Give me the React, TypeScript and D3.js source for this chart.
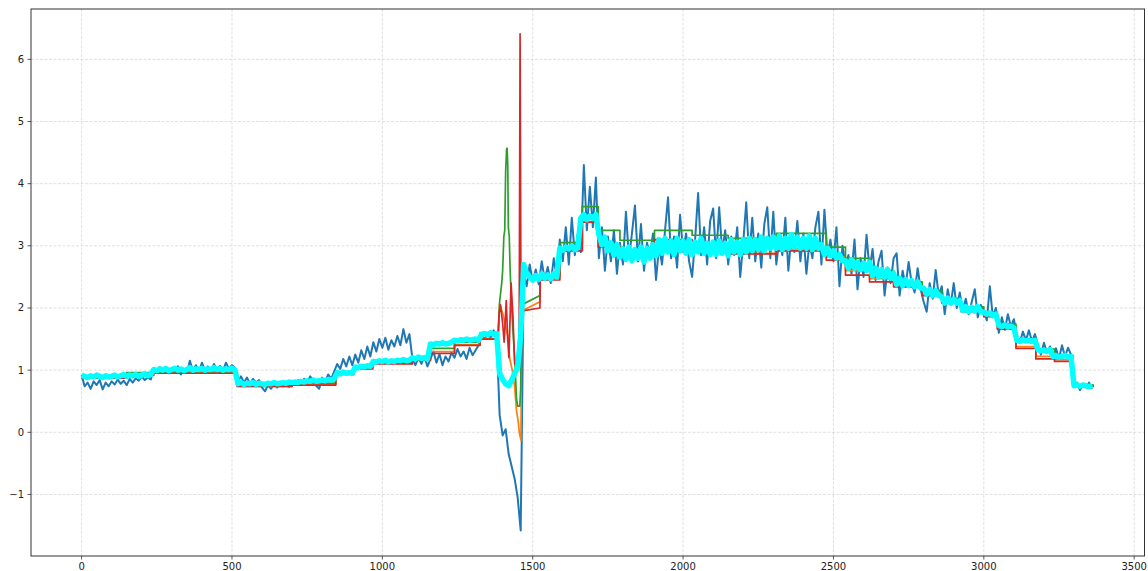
import React from 'react';
import * as d3 from 'd3';

// Sample spacing of the two dense series (raw signal and smoothed estimate)
const STEP = 10;

// Raw signal, one value every STEP samples from x = 0
const blueValues = [
  0.92, 0.74, 0.80, 0.70, 0.82, 0.76, 0.84, 0.69, 0.80, 0.74,
  0.82, 0.77, 0.85, 0.78, 0.83, 0.76, 0.86, 0.80, 0.87, 0.83,
  0.90, 0.84, 0.88, 0.85, 1.02, 0.96, 1.05, 0.98, 1.04, 0.95,
  1.03, 0.97, 1.06, 0.93, 1.02, 0.96, 1.15, 0.99, 1.08, 0.97,
  1.12, 1.00, 1.06, 0.98, 1.10, 1.01, 1.07, 0.99, 1.12, 1.02,
  1.08, 1.04, 0.82, 0.90, 0.80, 0.88, 0.78, 0.86, 0.80, 0.84,
  0.72, 0.66, 0.76, 0.70, 0.78, 0.72, 0.76, 0.74, 0.80, 0.73,
  0.79, 0.76, 0.84, 0.78, 0.86, 0.80, 0.90, 0.82, 0.75, 0.70,
  0.88, 0.82, 0.93, 0.86, 0.98, 1.10, 1.02, 1.18, 1.06, 1.22,
  1.08, 1.25, 1.12, 1.32, 1.18, 1.38, 1.22, 1.45, 1.30, 1.50,
  1.36, 1.52, 1.33, 1.48, 1.38, 1.55, 1.40, 1.66, 1.44, 1.58,
  1.18, 1.08, 1.20, 1.10, 1.22, 1.06, 1.18, 1.30, 1.12, 1.26,
  1.08, 1.22, 1.14, 1.28, 1.20, 1.34, 1.22, 1.30, 1.18, 1.36,
  1.24, 1.32, 1.40, 1.55, 1.50, 1.58, 1.52, 1.64, 1.55, 0.28,
  -0.05, 0.05, -0.35, -0.55, -0.75, -1.05, -1.58, 2.55, 2.35, 2.70,
  2.42, 2.62, 2.38, 2.75, 2.45, 2.66, 2.40, 2.80, 2.50, 3.10,
  2.75, 3.30, 2.70, 3.45, 2.85, 3.20, 2.90, 4.30, 3.25, 3.95,
  3.30, 4.10, 2.80, 3.30, 2.60, 3.15, 2.75, 3.25, 2.55, 3.05,
  2.70, 3.55, 2.80, 3.20, 3.65, 2.75, 3.35, 2.60, 3.05, 2.85,
  3.20, 2.45, 3.00, 2.70, 3.25, 3.78, 2.80, 3.15, 2.65, 3.50,
  2.90, 3.20, 2.75, 2.50, 3.10, 3.85, 2.85, 3.30, 2.70, 3.40,
  3.60, 2.80, 3.62, 2.90, 3.25, 2.70, 3.15, 2.85, 3.30, 2.50,
  3.05, 3.70, 2.80, 3.45, 2.75, 3.20, 2.65, 3.35, 3.62, 2.80,
  3.55, 2.70, 3.10, 2.85, 3.45, 2.60, 3.15, 2.90, 3.40, 2.75,
  3.20, 2.55, 3.05, 2.80, 3.30, 3.55, 2.70, 3.58, 2.85, 3.10,
  2.75, 3.30, 2.35, 3.00, 2.70, 2.85, 2.55, 3.10, 2.30, 2.80,
  2.50, 3.18, 2.60, 2.95, 2.45, 2.75, 2.92, 2.20, 2.65, 2.40,
  2.80, 2.88, 2.20, 2.60, 2.35, 2.74, 2.40, 2.25, 2.64, 2.30,
  2.10, 1.94, 2.40, 2.15, 2.61, 2.20, 2.35, 1.90, 2.30, 2.05,
  2.40, 2.00, 2.25, 1.95, 2.15, 1.90, 2.10, 2.30, 1.85, 2.05,
  1.95, 1.80, 2.35, 1.85, 2.00, 1.60, 1.85, 1.65, 1.90, 1.70,
  1.82, 1.55, 1.45, 1.62, 1.48, 1.64, 1.46, 1.58, 1.40, 1.25,
  1.44, 1.28, 1.38, 1.20, 1.35, 1.18, 1.40, 1.22, 1.36, 1.25,
  0.74, 0.80, 0.68, 0.78, 0.72, 0.80, 0.70,
];

// Smoothed estimate (thick cyan), same sampling as the raw signal
const cyanValues = [
  0.92, 0.90, 0.88, 0.91, 0.89, 0.92, 0.90, 0.88, 0.91, 0.89,
  0.90, 0.92, 0.89, 0.91, 0.93, 0.90, 0.92, 0.91, 0.93, 0.90,
  0.92, 0.94, 0.91, 0.93, 1.01, 0.99, 1.02, 1.00, 1.03, 0.99,
  1.01, 1.03, 1.00, 1.02, 0.99, 1.01, 1.04, 1.00, 1.02, 1.01,
  1.03, 1.00, 1.02, 1.01, 1.04, 1.01, 1.03, 1.00, 1.02, 1.01,
  1.03, 1.00, 0.78, 0.80, 0.77, 0.79, 0.78, 0.80, 0.77, 0.79,
  0.78, 0.77, 0.79, 0.78, 0.80, 0.78, 0.79, 0.80, 0.79, 0.81,
  0.80, 0.81, 0.80, 0.82, 0.81, 0.83, 0.82, 0.84, 0.82, 0.83,
  0.84, 0.83, 0.85, 0.84, 0.86, 0.96, 0.94, 0.97, 0.95, 0.96,
  0.95, 1.05, 1.04, 1.06, 1.05, 1.07, 1.06, 1.14, 1.13, 1.15,
  1.14, 1.16, 1.13, 1.15, 1.14, 1.16, 1.15, 1.17, 1.15, 1.16,
  1.20, 1.18, 1.21, 1.19, 1.20, 1.18, 1.42, 1.41, 1.43, 1.42,
  1.44, 1.42, 1.43, 1.45, 1.48, 1.47, 1.49, 1.48, 1.50, 1.48,
  1.49, 1.50, 1.48, 1.58, 1.59, 1.57, 1.60, 1.58, 1.59, 0.95,
  0.85, 0.78, 0.75, 0.84, 0.95, 1.05, 1.55, 2.70, 2.55, 2.50,
  2.45, 2.52, 2.46, 2.55, 2.48, 2.53, 2.47, 2.55, 2.50, 2.96,
  2.93, 2.98, 2.95, 3.00, 2.94, 2.97, 3.45, 3.50, 3.42, 3.48,
  3.44, 3.50, 3.18, 3.02, 3.14, 2.92, 3.05, 2.85, 3.02, 2.82,
  2.95, 2.78, 2.98, 2.76, 2.94, 2.80, 2.98, 2.74, 2.96, 2.80,
  3.02, 2.84, 3.10, 2.88, 3.12, 2.90, 3.08, 2.86, 3.12, 2.92,
  3.08, 2.88, 3.10, 2.86, 3.06, 2.90, 3.12, 2.88, 3.04, 2.86,
  3.06, 2.86, 3.08, 2.88, 3.04, 2.84, 3.10, 2.90, 3.06, 2.86,
  3.10, 2.90, 3.12, 2.92, 3.10, 2.94, 3.14, 2.92, 3.12, 2.96,
  3.14, 2.96, 3.16, 2.94, 3.12, 2.96, 3.18, 2.98, 3.14, 2.96,
  3.12, 2.96, 3.16, 2.94, 3.12, 2.96, 3.02, 2.86, 2.96, 2.84,
  2.92, 2.80, 2.86, 2.76, 2.76, 2.64, 2.78, 2.64, 2.74, 2.62,
  2.72, 2.60, 2.74, 2.52, 2.64, 2.50, 2.62, 2.50, 2.62, 2.48,
  2.56, 2.38, 2.48, 2.36, 2.46, 2.36, 2.44, 2.34, 2.42, 2.32,
  2.32, 2.22, 2.30, 2.20, 2.28, 2.20, 2.18, 2.08, 2.16, 2.08,
  2.14, 2.08, 2.12, 1.96, 2.02, 1.94, 2.01, 1.95, 2.02, 1.94,
  1.93, 1.90, 1.92, 1.88, 1.90, 1.72, 1.70, 1.73, 1.69, 1.71,
  1.68, 1.48, 1.46, 1.49, 1.47, 1.48, 1.46, 1.48, 1.33, 1.31,
  1.32, 1.30, 1.33, 1.22, 1.23, 1.21, 1.22, 1.24, 1.21, 1.22,
  0.75, 0.76, 0.74, 0.76, 0.75, 0.73, 0.76,
];

// Piecewise-constant estimates before the transient: segment edges and levels
const preEdges = [0, 150, 240, 517, 700, 845, 905, 968, 1100, 1160, 1240, 1325, 1385];
const orangePre = [0.88, 0.93, 0.95, 0.74, 0.77, 0.94, 1.03, 1.11, 1.17, 1.30, 1.41, 1.51];
const greenPre = [0.90, 0.96, 0.97, 0.76, 0.79, 0.96, 1.05, 1.13, 1.19, 1.35, 1.45, 1.60];
const redPre = [0.87, 0.92, 0.95, 0.74, 0.76, 0.93, 1.02, 1.10, 1.16, 1.27, 1.40, 1.50];

// Transient around x = 1385..1525, as [x, y] samples
const orangeTransient: [number, number][] = [
  [1385, 1.51], [1390, 2.07], [1401, 1.9], [1418, 1.53], [1423, 1.2], [1432, 1.0],
  [1440, 0.73], [1446, 0.35], [1451, 0.2], [1456, -0.02], [1461, -0.13],
  [1463, 1.95], [1524, 2.1],
];
const greenTransient: [number, number][] = [
  [1385, 1.6], [1390, 2.1], [1397, 2.4], [1400, 2.6], [1404, 3.15], [1407, 3.25],
  [1410, 4.2], [1413, 4.55], [1415, 4.57], [1417, 4.3], [1419, 3.3], [1422, 3.15],
  [1425, 2.6], [1430, 2.0], [1436, 1.5], [1441, 1.1], [1446, 0.55], [1450, 0.42],
  [1457, 0.42], [1460, 0.7], [1463, 2.05], [1524, 2.2],
];
const redTransient: [number, number][] = [
  [1385, 1.5], [1388, 1.9], [1393, 2.05], [1400, 1.75], [1405, 1.45], [1412, 2.12],
  [1417, 1.48], [1421, 1.2], [1428, 2.4], [1434, 1.9], [1440, 1.1], [1446, 1.1],
  [1451, 1.25], [1455, 1.6], [1458, 6.41], [1461, 1.95], [1524, 2.0],
];

// Piecewise-constant estimates after the transient
const postEdges = [1525, 1590, 1665, 1718, 1790, 1905, 2030, 2150, 2310, 2476, 2540, 2620,
  2700, 2795, 2860, 2925, 3000, 3045, 3107, 3173, 3235, 3296, 3366];
const orangePost = [2.48, 2.93, 3.38, 3.00, 2.88, 3.00, 2.93, 2.88, 2.95, 2.82, 2.60, 2.47,
  2.38, 2.22, 2.10, 1.96, 1.88, 1.68, 1.38, 1.22, 1.17, 0.75];
const greenPost = [2.52, 3.05, 3.63, 3.25, 3.09, 3.25, 3.17, 3.12, 3.20, 2.98, 2.80, 2.60,
  2.42, 2.28, 2.15, 2.02, 1.93, 1.74, 1.50, 1.34, 1.24, 0.76];
const redPost = [2.45, 2.92, 3.38, 2.98, 2.85, 3.10, 2.90, 2.87, 2.92, 2.77, 2.53, 2.42,
  2.34, 2.20, 2.08, 1.94, 1.86, 1.66, 1.35, 1.18, 1.14, 0.74];

const xTicks = [0, 500, 1000, 1500, 2000, 2500, 3000, 3500];
const yTicks = [-1, 0, 1, 2, 3, 4, 5, 6];

const WIDTH = 1148;
const HEIGHT = 571;
const PLOT = { left: 31, top: 9, right: 1144.5, bottom: 556 };
const FONT = "'DejaVu Sans', sans-serif";

type Pt = [number, number];

function sampled(values: number[]): Pt[] {
  return values.map((v, i) => [i * STEP, v] as Pt);
}

function plateaus(edges: number[], levels: number[]): Pt[] {
  const pts: Pt[] = [];
  levels.forEach((lv, i) => {
    pts.push([edges[i], lv]);
    pts.push([edges[i + 1], lv]);
  });
  return pts;
}

function estimate(pre: number[], transient: Pt[], post: number[]): Pt[] {
  return [
    ...plateaus(preEdges, pre),
    ...transient,
    ...plateaus(postEdges, post),
  ];
}

const fmt = (v: number) => (v < 0 ? '\u2212' + Math.abs(v) : String(v));

export default function App() {
  const x = d3.scaleLinear().domain([-168.3, 3534.3]).range([PLOT.left, PLOT.right]);
  const y = d3.scaleLinear().domain([-1.99, 6.81]).range([PLOT.bottom, PLOT.top]);
  const line = d3.line<Pt>().x((d) => x(d[0])).y((d) => y(d[1]));

  const series = [
    { key: 'raw', pts: sampled(blueValues), color: '#1f77b4', width: 2 },
    { key: 'orange', pts: estimate(orangePre, orangeTransient, orangePost), color: '#ff7f0e', width: 1.7 },
    { key: 'green', pts: estimate(greenPre, greenTransient, greenPost), color: '#2ca02c', width: 1.7 },
    { key: 'red', pts: estimate(redPre, redTransient, redPost), color: '#d62728', width: 1.7 },
    { key: 'smooth', pts: sampled(cyanValues), color: '#00ffff', width: 5.5 },
  ];

  return (
    <svg
      width={WIDTH}
      height={HEIGHT}
      style={{ position: 'absolute', left: 0, top: 0, background: '#fff' }}
    >
      <defs>
        <clipPath id="plot-area">
          <rect x={PLOT.left} y={PLOT.top} width={PLOT.right - PLOT.left} height={PLOT.bottom - PLOT.top} />
        </clipPath>
      </defs>
      <rect x={0} y={0} width={WIDTH} height={HEIGHT} fill="#fff" />

      {/* grid */}
      <g stroke="#d8d8d8" strokeWidth={0.8} strokeDasharray="3,1.5">
        {xTicks.map((t) => (
          <line key={'gx' + t} x1={x(t)} x2={x(t)} y1={PLOT.top} y2={PLOT.bottom} />
        ))}
        {yTicks.map((t) => (
          <line key={'gy' + t} x1={PLOT.left} x2={PLOT.right} y1={y(t)} y2={y(t)} />
        ))}
      </g>

      {/* series */}
      <g clipPath="url(#plot-area)" fill="none" strokeLinejoin="round" strokeLinecap="butt">
        {series.map((s) => (
          <path key={s.key} d={line(s.pts) || ''} stroke={s.color} strokeWidth={s.width} />
        ))}
      </g>

      {/* frame */}
      <rect
        x={PLOT.left}
        y={PLOT.top}
        width={PLOT.right - PLOT.left}
        height={PLOT.bottom - PLOT.top}
        fill="none"
        stroke="#333"
        strokeWidth={1}
      />

      {/* axes */}
      <g fontFamily={FONT} fontSize={10} fill="#222">
        {xTicks.map((t) => (
          <g key={'tx' + t}>
            <line x1={x(t)} x2={x(t)} y1={PLOT.bottom} y2={PLOT.bottom + 3.5} stroke="#333" strokeWidth={0.8} />
            <text x={x(t)} y={PLOT.bottom + 7} textAnchor="middle" dominantBaseline="hanging">
              {fmt(t)}
            </text>
          </g>
        ))}
        {yTicks.map((t) => (
          <g key={'ty' + t}>
            <line x1={PLOT.left - 3.5} x2={PLOT.left} y1={y(t)} y2={y(t)} stroke="#333" strokeWidth={0.8} />
            <text x={PLOT.left - 7} y={y(t)} textAnchor="end" dominantBaseline="central">
              {fmt(t)}
            </text>
          </g>
        ))}
      </g>
    </svg>
  );
}
